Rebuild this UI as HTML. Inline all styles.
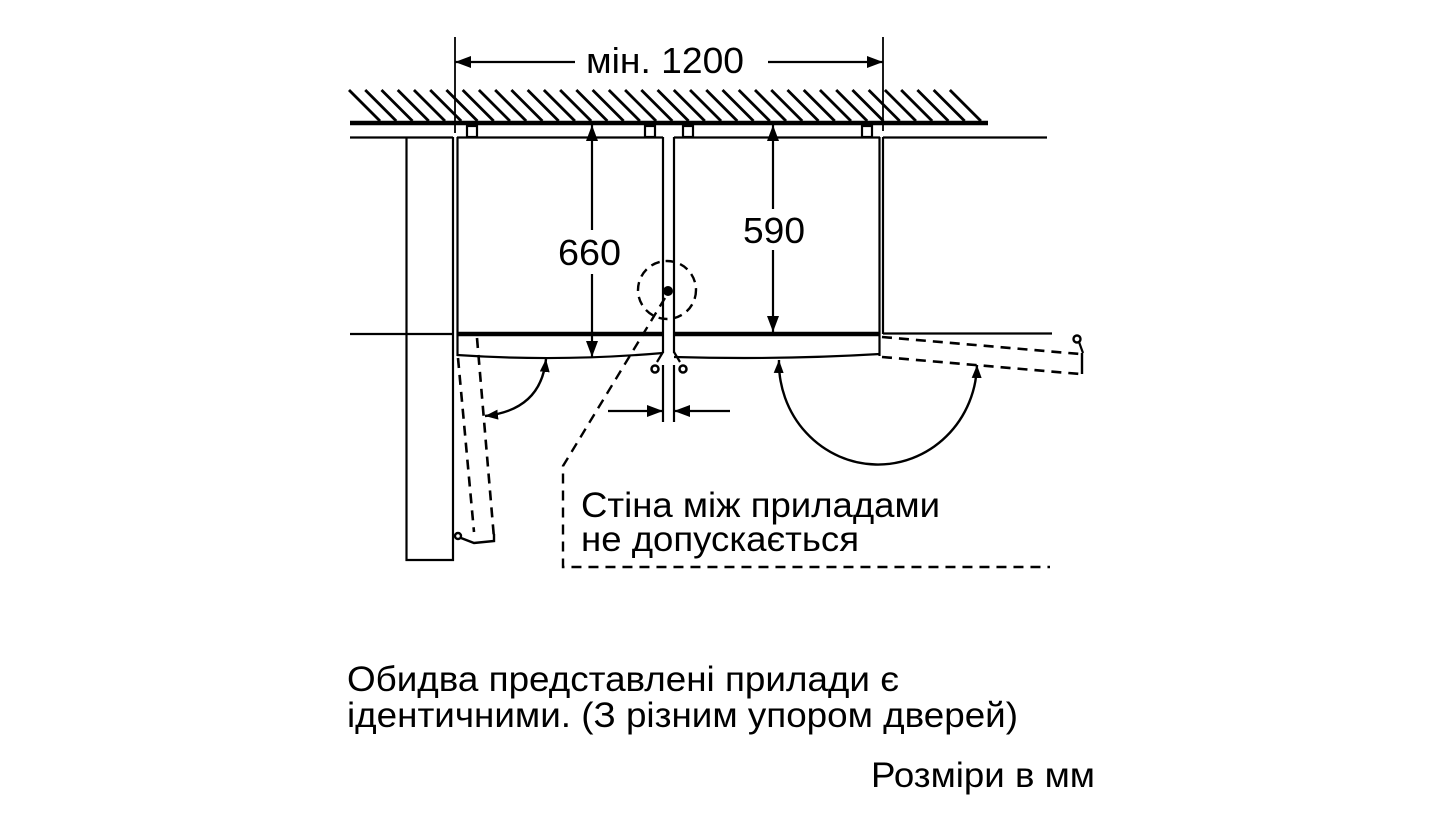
<!DOCTYPE html>
<html>
<head>
<meta charset="utf-8">
<style>
  html,body{margin:0;padding:0;background:#fff;}
  svg{display:block;}
  text{font-family:"Liberation Sans","Noto Sans CJK SC",sans-serif;fill:#000;}
</style>
</head>
<body>
<svg width="1440" height="821" viewBox="0 0 1440 821" xmlns="http://www.w3.org/2000/svg">
  <defs>
    <marker id="ah" viewBox="0 0 16 12" refX="16" refY="6" markerWidth="16" markerHeight="12" markerUnits="userSpaceOnUse" orient="auto-start-reverse">
      <path d="M0,0 L16,6 L0,12 z" fill="#000"/>
    </marker>
    <marker id="ahs" viewBox="0 0 13 10" refX="13" refY="5" markerWidth="13" markerHeight="10" markerUnits="userSpaceOnUse" orient="auto-start-reverse">
      <path d="M0,0 L13,5 L0,10 z" fill="#000"/>
    </marker>
  </defs>
  <rect width="1440" height="821" fill="#fff"/>

  <g stroke="#000" fill="none" stroke-width="2.2">
    <!-- hatch -->
    <g stroke-width="2.8">
      <line x1="349" y1="90" x2="380" y2="121"/>
      <line x1="365.24" y1="90" x2="396.24" y2="121"/>
      <line x1="381.48" y1="90" x2="412.48" y2="121"/>
      <line x1="397.72" y1="90" x2="428.72" y2="121"/>
      <line x1="413.96" y1="90" x2="444.96" y2="121"/>
      <line x1="430.2" y1="90" x2="461.2" y2="121"/>
      <line x1="446.44" y1="90" x2="477.44" y2="121"/>
      <line x1="462.68" y1="90" x2="493.68" y2="121"/>
      <line x1="478.92" y1="90" x2="509.92" y2="121"/>
      <line x1="495.16" y1="90" x2="526.16" y2="121"/>
      <line x1="511.4" y1="90" x2="542.4" y2="121"/>
      <line x1="527.64" y1="90" x2="558.64" y2="121"/>
      <line x1="543.88" y1="90" x2="574.88" y2="121"/>
      <line x1="560.12" y1="90" x2="591.12" y2="121"/>
      <line x1="576.36" y1="90" x2="607.36" y2="121"/>
      <line x1="592.6" y1="90" x2="623.6" y2="121"/>
      <line x1="608.84" y1="90" x2="639.84" y2="121"/>
      <line x1="625.08" y1="90" x2="656.08" y2="121"/>
      <line x1="641.32" y1="90" x2="672.32" y2="121"/>
      <line x1="657.56" y1="90" x2="688.56" y2="121"/>
      <line x1="673.8" y1="90" x2="704.8" y2="121"/>
      <line x1="690.04" y1="90" x2="721.04" y2="121"/>
      <line x1="706.28" y1="90" x2="737.28" y2="121"/>
      <line x1="722.52" y1="90" x2="753.52" y2="121"/>
      <line x1="738.76" y1="90" x2="769.76" y2="121"/>
      <line x1="755" y1="90" x2="786" y2="121"/>
      <line x1="771.24" y1="90" x2="802.24" y2="121"/>
      <line x1="787.48" y1="90" x2="818.48" y2="121"/>
      <line x1="803.72" y1="90" x2="834.72" y2="121"/>
      <line x1="819.96" y1="90" x2="850.96" y2="121"/>
      <line x1="836.2" y1="90" x2="867.2" y2="121"/>
      <line x1="852.44" y1="90" x2="883.44" y2="121"/>
      <line x1="868.68" y1="90" x2="899.68" y2="121"/>
      <line x1="884.92" y1="90" x2="915.92" y2="121"/>
      <line x1="901.16" y1="90" x2="932.16" y2="121"/>
      <line x1="917.4" y1="90" x2="948.4" y2="121"/>
      <line x1="933.64" y1="90" x2="964.64" y2="121"/>
      <line x1="949.88" y1="90" x2="980.88" y2="121"/>
    </g>
    <line x1="350" y1="123" x2="988" y2="123" stroke-width="4.5"/>

    <!-- top dimension -->
    <line x1="455" y1="37" x2="455" y2="133" stroke-width="1.8"/>
    <line x1="883" y1="37" x2="883" y2="131" stroke-width="1.8"/>
    <line x1="575" y1="62" x2="455" y2="62" stroke-width="2.2" marker-end="url(#ah)"/>
    <line x1="768" y1="62" x2="883" y2="62" stroke-width="2.2" marker-end="url(#ah)"/>

    <!-- top line -->
    <line x1="350" y1="137.5" x2="453" y2="137.5"/>
    <line x1="457" y1="137.5" x2="663" y2="137.5"/>
    <line x1="674" y1="137.5" x2="880" y2="137.5"/>
    <line x1="883" y1="137.5" x2="1047" y2="137.5"/>

    <!-- hinge squares -->
    <rect x="467" y="126" width="10" height="11" fill="#fff"/>
    <rect x="645" y="126" width="10" height="11" fill="#fff"/>
    <rect x="683" y="126" width="10" height="11" fill="#fff"/>
    <rect x="862" y="126" width="10" height="11" fill="#fff"/>

    <!-- left wall block -->
    <line x1="406.5" y1="137" x2="406.5" y2="561"/>
    <line x1="453" y1="137" x2="453" y2="561"/>
    <line x1="405.5" y1="560" x2="454" y2="560"/>
    <line x1="350" y1="334" x2="453" y2="334"/>

    <!-- left fridge -->
    <line x1="457.5" y1="137" x2="457.5" y2="356"/>
    <line x1="663" y1="137" x2="663" y2="353"/>
    <line x1="457" y1="334" x2="663" y2="334" stroke-width="4.5"/>
    <path d="M457 355 Q 560 362 663 353"/>

    <!-- right fridge -->
    <line x1="674" y1="137" x2="674" y2="353"/>
    <line x1="879.5" y1="137" x2="879.5" y2="356"/>
    <line x1="883" y1="137" x2="883" y2="334"/>
    <line x1="674" y1="334" x2="880" y2="334" stroke-width="4.5"/>
    <path d="M674 357 Q 780 360 880 354"/>
    <line x1="883" y1="333.5" x2="1052" y2="333.5"/>

    <!-- hinges center -->
    <polyline points="663,352 657,362"/>
    <circle cx="655" cy="369" r="3.5" stroke-width="2.5"/>
    <polyline points="674,352 680,362"/>
    <circle cx="683" cy="369" r="3.5" stroke-width="2.5"/>

    <!-- gap dimension -->
    <line x1="663" y1="365" x2="663" y2="422"/>
    <line x1="674" y1="365" x2="674" y2="422"/>
    <line x1="608" y1="411" x2="663" y2="411" marker-end="url(#ah)"/>
    <line x1="730" y1="411" x2="674" y2="411" marker-end="url(#ah)"/>

    <!-- 660 -->
    <line x1="592" y1="230" x2="592" y2="125" marker-end="url(#ah)"/>
    <line x1="592" y1="274" x2="592" y2="357" marker-end="url(#ah)"/>
    <!-- 590 -->
    <line x1="773" y1="209" x2="773" y2="125" marker-end="url(#ah)"/>
    <line x1="773" y1="250" x2="773" y2="332" marker-end="url(#ah)"/>

    <!-- dashed circle and leader -->
    <circle cx="667" cy="290" r="29" stroke-dasharray="9 6" stroke-width="2.4"/>
    <path d="M665 298 L563 466 L563 567 L1050 567" stroke-dasharray="10 7" stroke-width="2.4"/>

    <!-- left open door dashed -->
    <line x1="458" y1="358" x2="474" y2="532" stroke-dasharray="10 7" stroke-width="2.6"/>
    <line x1="477" y1="338" x2="494" y2="538" stroke-dasharray="10 7" stroke-width="2.6"/>
    <circle cx="458" cy="536" r="3" stroke-width="2.4"/>
    <polyline points="461,538 474,543 494,541 494,534" stroke-width="2.4"/>

    <!-- right open door dashed -->
    <line x1="882" y1="337" x2="1080" y2="354" stroke-dasharray="10 7" stroke-width="2.6"/>
    <line x1="882" y1="357" x2="1080" y2="374" stroke-dasharray="10 7" stroke-width="2.6"/>
    <line x1="1082" y1="353" x2="1082" y2="374" stroke-width="2.4"/>
    <circle cx="1077" cy="339" r="3.5" stroke-width="2.4"/>
    <line x1="1079" y1="342" x2="1083" y2="353"/>

    <!-- curved arrows -->
    <path d="M546 359 Q 541 410 485 416" marker-start="url(#ahs)" marker-end="url(#ahs)" stroke-width="2.4"/>
    <path d="M779 360 A 99 102 0 0 0 977 365" marker-start="url(#ahs)" marker-end="url(#ahs)" stroke-width="2.4"/>
  </g>
  <circle cx="668" cy="291" r="5" fill="#000"/>

  <!-- texts -->
  <text x="586" y="73" font-size="36" textLength="158" lengthAdjust="spacingAndGlyphs">мін. 1200</text>
  <text x="558" y="265" font-size="36" textLength="63" lengthAdjust="spacingAndGlyphs">660</text>
  <text x="743" y="243" font-size="36" textLength="62" lengthAdjust="spacingAndGlyphs">590</text>
  <text x="581" y="517" font-size="35" textLength="359" lengthAdjust="spacingAndGlyphs">Стіна між приладами</text>
  <text x="581" y="551" font-size="35" textLength="278" lengthAdjust="spacingAndGlyphs">не допускається</text>
  <text x="347" y="691" font-size="35" textLength="552" lengthAdjust="spacingAndGlyphs">Обидва представлені прилади є</text>
  <text x="347" y="727" font-size="35" textLength="671" lengthAdjust="spacingAndGlyphs">ідентичними. (З різним упором дверей)</text>
  <text x="871" y="787" font-size="35" textLength="224" lengthAdjust="spacingAndGlyphs">Розміри в мм</text>
</svg>
</body>
</html>
